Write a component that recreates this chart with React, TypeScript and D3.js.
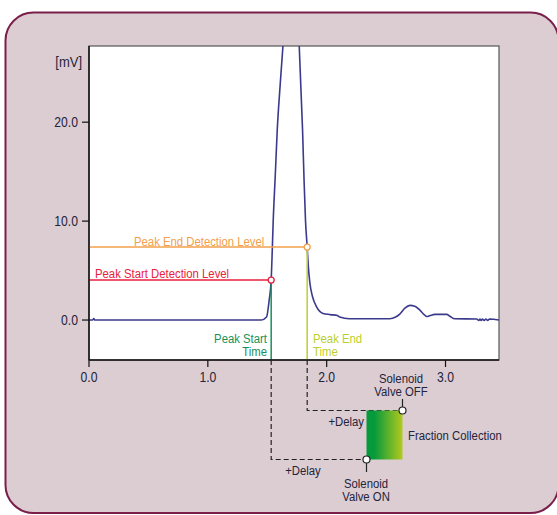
import React, { useEffect } from 'react';
import * as d3 from 'd3';

// chromatogram trace
const timeMin = [0, 0.03, 0.04, 0.05, 0.5, 1.0, 1.45, 1.494, 1.516, 1.533, 1.542, 1.55, 1.567, 1.584, 1.61, 1.632, 1.70, 1.769, 1.797, 1.81, 1.822, 1.836, 1.845, 1.859, 1.88, 1.915, 1.97, 2.03, 2.09, 2.11, 2.19, 2.3, 2.53, 2.58, 2.615, 2.658, 2.70, 2.742, 2.784, 2.82, 2.843, 2.87, 2.91, 3.01, 3.04, 3.078, 3.263, 3.28, 3.29, 3.30, 3.31, 3.325, 3.34, 3.355, 3.37, 3.45];
const signalMv = [0, 0, 0.15, 0, 0, 0, 0, 0.3, 2.0, 4.04, 7, 10, 14.5, 19.2, 24, 27.7, 36, 27.7, 19.2, 14, 10, 7.37, 5.5, 3.7, 2.4, 1.34, 0.67, 0.55, 0.45, 0.3, 0.13, 0.13, 0.13, 0.3, 0.6, 1.2, 1.48, 1.4, 1.0, 0.55, 0.35, 0.45, 0.57, 0.57, 0.35, 0.13, 0.1, -0.05, 0.1, -0.05, 0.1, -0.05, 0.1, -0.05, 0.1, 0.0];

const xTicks = [0, 1, 2, 3];
const yTicks = [0, 10, 20];

const peakStart = { t: 1.533, level: 4.04 };
const peakEnd = { t: 1.836, level: 7.37 };

const W = 557;
const H = 515;
const plot = { left: 89, top: 46, right: 499, bottom: 360 };

const FONT = '"Liberation Sans", Arial, sans-serif';
const INK = '#24243a';
const NARROW = 0.84; // no condensed face installed, squeeze the regular one

type LabelProps = {
  x: number;
  y: number;
  lines: string[];
  size?: number;
  color?: string;
  anchor?: 'start' | 'middle' | 'end';
  leading?: number;
};

// condensed text: squeezed horizontally around its anchor point
const Label: React.FC<LabelProps> = ({ x, y, lines, size = 13.5, color = INK, anchor = 'start', leading = 13.5 }) => (
  <g transform={`translate(${x},${y}) scale(${NARROW},1)`}>
    <text fontSize={size} fill={color} textAnchor={anchor}>
      {lines.map((s, i) => (
        <tspan key={i} x={0} y={i * leading}>{s}</tspan>
      ))}
    </text>
  </g>
);

const App: React.FC = () => {
  useEffect(() => {
    document.body.style.margin = '0';
  }, []);

  const x = d3.scaleLinear().domain([0, 3.45]).range([plot.left, plot.right]);
  const y = d3.scaleLinear().domain([-4.04, 27.7]).range([plot.bottom, plot.top]);

  const line = d3.line<number>()
    .x((_, i) => x(timeMin[i]))
    .y(d => y(d))
    .curve(d3.curveMonotoneX);

  const xs = x(peakStart.t);
  const ys = y(peakStart.level);
  const xe = x(peakEnd.t);
  const ye = y(peakEnd.level);

  // valve diagram below the axis
  const onY = 459.5;
  const offY = 410.5;
  const boxL = 366.5;
  const boxR = 402.5;

  return (
    <svg width={W} height={H} style={{ display: 'block' }} fontFamily={FONT}>
      <defs>
        <clipPath id="plotClip">
          <rect x={plot.left} y={plot.top} width={plot.right - plot.left} height={plot.bottom - plot.top} />
        </clipPath>
        <linearGradient id="fraction" x1="0" x2="1" y1="0" y2="0">
          <stop offset="0" stopColor="#079a3c" />
          <stop offset="0.22" stopColor="#079a3c" />
          <stop offset="1" stopColor="#b2ca1e" />
        </linearGradient>
      </defs>

      <rect x={5.5} y={12.5} width={553} height={500.5} rx={28} fill="#dccdd3" stroke="#7a1e4a" strokeWidth={2} />

      <rect x={plot.left} y={plot.top} width={plot.right - plot.left} height={plot.bottom - plot.top} fill="#fff" stroke="#555" strokeWidth={1.2} />

      <g clipPath="url(#plotClip)">
        <path d={line(signalMv) || ''} fill="none" stroke="#3b3a8c" strokeWidth={1.6} strokeLinejoin="round" />
      </g>

      {/* detection levels */}
      <line x1={plot.left} x2={xe} y1={ye} y2={ye} stroke="#f2a04c" strokeWidth={1.5} />
      <line x1={plot.left} x2={xs} y1={ys} y2={ys} stroke="#e8213c" strokeWidth={1.5} />
      <line x1={xs} x2={xs} y1={ys} y2={plot.bottom} stroke="#17915a" strokeWidth={1.5} />
      <line x1={xe} x2={xe} y1={ye} y2={plot.bottom} stroke="#bacf2c" strokeWidth={1.5} />
      <circle cx={xe} cy={ye} r={3} fill="#fff" stroke="#f2a04c" strokeWidth={1.3} />
      <circle cx={xs} cy={ys} r={3} fill="#fff" stroke="#e8213c" strokeWidth={1.3} />

      <Label x={134} y={245.5} lines={['Peak End Detection Level']} color="#f2a04c" />
      <Label x={95} y={277.5} lines={['Peak Start Detection Level']} color="#e8213c" />
      <Label x={267} y={342.5} lines={['Peak Start', 'Time']} color="#17915a" anchor="end" />
      <Label x={313} y={342.5} lines={['Peak End', 'Time']} color="#bacf2c" />

      {/* axes */}
      <line x1={plot.left} x2={plot.left} y1={plot.top} y2={plot.bottom} stroke="#111" strokeWidth={1.5} />
      <line x1={plot.left} x2={plot.right} y1={plot.bottom} y2={plot.bottom} stroke="#111" strokeWidth={1.5} />
      {xTicks.map(t => (
        <g key={`x${t}`}>
          <line x1={x(t)} x2={x(t)} y1={plot.bottom} y2={plot.bottom + 7} stroke="#111" strokeWidth={1.2} />
          <Label x={x(t)} y={382} lines={[t.toFixed(1)]} size={14.5} anchor="middle" />
        </g>
      ))}
      {yTicks.map(v => (
        <g key={`y${v}`}>
          <line x1={plot.left - 7} x2={plot.left} y1={y(v)} y2={y(v)} stroke="#111" strokeWidth={1.2} />
          <Label x={78} y={y(v) + 5} lines={[v.toFixed(1)]} size={14.5} anchor="end" />
        </g>
      ))}
      <Label x={82} y={67} lines={['[mV]']} size={15.5} anchor="end" />

      {/* delay to solenoid valve */}
      <path d={`M${xs},${plot.bottom}V${onY}H${boxL}`} fill="none" stroke="#222" strokeWidth={1.2} strokeDasharray="5,3" />
      <path d={`M${xe},${plot.bottom}V${offY}H${boxR}`} fill="none" stroke="#222" strokeWidth={1.2} strokeDasharray="5,3" />
      <rect x={boxL} y={offY} width={boxR - boxL} height={onY - offY} fill="url(#fraction)" />
      <line x1={boxR} x2={boxR} y1={offY} y2={399} stroke="#222" strokeWidth={1.2} />
      <line x1={boxL} x2={boxL} y1={onY} y2={472} stroke="#222" strokeWidth={1.2} />
      <circle cx={boxR} cy={offY} r={3.5} fill="#fff" stroke="#222" strokeWidth={1.2} />
      <circle cx={boxL} cy={onY} r={3.5} fill="#fff" stroke="#222" strokeWidth={1.2} />

      <Label x={401} y={382.5} lines={['Solenoid', 'Valve OFF']} anchor="middle" leading={14} />
      <Label x={364} y={426} lines={['+Delay']} anchor="end" />
      <Label x={408} y={440} lines={['Fraction Collection']} />
      <Label x={303} y={474.5} lines={['+Delay']} anchor="middle" />
      <Label x={366} y={488} lines={['Solenoid', 'Valve ON']} anchor="middle" leading={13} />
    </svg>
  );
};

export default App;
